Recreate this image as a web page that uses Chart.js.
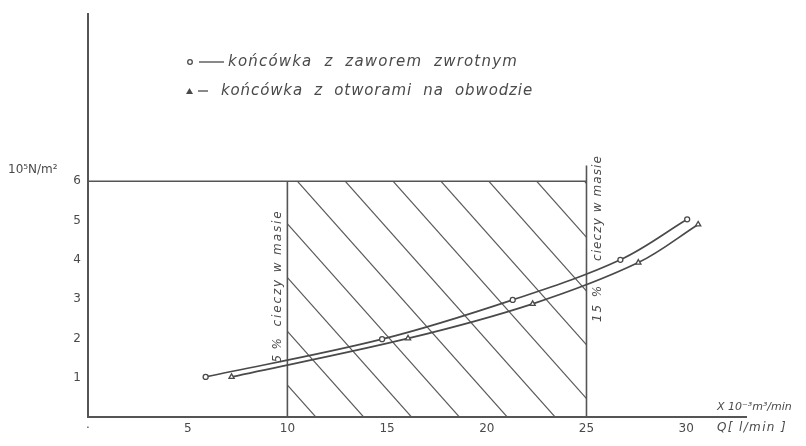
<!DOCTYPE html>
<html>
<head>
<meta charset="utf-8">
<script src="https://cdn.jsdelivr.net/npm/chart.js@4.4.1/dist/chart.umd.min.js"></script>
<style>
    html, body { margin: 0; background: #fff; }
    #wrap { width: 806px; height: 446px; }
</style>
</head>
<body>
<div id="wrap"><canvas id="chart" width="806" height="446"></canvas></div>
<script>
// pressure [10^5 N/m^2] vs flow Q [l/min]
const circleQ = [5.9, 14.75, 21.3, 26.7, 30.05];
const circleP = [1.02, 1.98, 2.98, 4.0, 5.03];
const triangleQ = [7.2, 16.05, 22.3, 27.6, 30.6];
const triangleP = [1.02, 2.0, 2.88, 3.93, 4.9];

const xTicks = [0, 5, 10, 15, 20, 25, 30];
const xTickLabels = ['·', '5', '10', '15', '20', '25', '30'];
const yTicks = [1, 2, 3, 4, 5, 6];

// 5 % and 15 % liquid content limits, frame top
const limitQ = [10, 25];
const frameTop = 6;
const rightLimitTop = 6.4;
// hatch lines: p = frameTop - hatchSlope * (Q - offset)
const hatchOffsets = [0.9, 3.3, 5.7, 8.1, 10.5, 12.9, 15.3, 17.7, 20.1, 22.5, 24.9];
const hatchSlope = 0.57;

const legendLabels = ['końcówka  z  zaworem  zwrotnym', 'końcówka  z  otworami  na  obwodzie'];

const INK = '#4a4a4a';
const toPoints = (xs, ys) => xs.map((x, i) => ({ x, y: ys[i] }));

const spacedText = (ctx, text, x, y, width) => {
    ctx.letterSpacing = '0px';
    const w = ctx.measureText(text).width;
    ctx.letterSpacing = Math.max(0, (width - w) / text.length) + 'px';
    ctx.fillText(text, x, y);
    ctx.letterSpacing = '0px';
};

const drawingPlugin = {
    id: 'drawing',
    beforeDatasetsDraw(chart) {
        const { ctx, scales: { x, y } } = chart;
        const left = x.getPixelForValue(limitQ[0]);
        const right = x.getPixelForValue(limitQ[1]);
        const top = y.getPixelForValue(frameTop);
        const bottom = y.getPixelForValue(0);
        ctx.save();
        ctx.beginPath();
        ctx.rect(left, top, right - left, bottom - top);
        ctx.clip();
        ctx.strokeStyle = '#5a5a5a';
        ctx.lineWidth = 1.2;
        hatchOffsets.forEach(off => {
            const q1 = off - 2, q2 = off + 14;
            ctx.beginPath();
            ctx.moveTo(x.getPixelForValue(q1), y.getPixelForValue(frameTop - hatchSlope * (q1 - off)));
            ctx.lineTo(x.getPixelForValue(q2), y.getPixelForValue(frameTop - hatchSlope * (q2 - off)));
            ctx.stroke();
        });
        ctx.restore();
    },
    afterDraw(chart) {
        const { ctx, scales: { x, y } } = chart;
        ctx.save();
        ctx.fillStyle = INK;
        ctx.strokeStyle = INK;

        // legend
        ctx.font = 'italic 15px "DejaVu Sans"';
        ctx.textBaseline = 'middle';
        ctx.lineWidth = 1.3;
        ctx.beginPath(); ctx.arc(190, 62, 2.3, 0, Math.PI * 2); ctx.stroke();
        ctx.beginPath(); ctx.moveTo(199, 62); ctx.lineTo(224, 62); ctx.stroke();
        spacedText(ctx, legendLabels[0], 228, 62, 290);
        ctx.beginPath();
        ctx.moveTo(186, 94); ctx.lineTo(193, 94); ctx.lineTo(189.5, 88); ctx.closePath();
        ctx.fill();
        ctx.beginPath(); ctx.moveTo(198, 91); ctx.lineTo(208, 91); ctx.stroke();
        spacedText(ctx, legendLabels[1], 221, 91, 312);

        // axis units
        ctx.font = '12px "DejaVu Sans"';
        ctx.textAlign = 'left';
        ctx.fillText('10⁵N/m²', 8, 170);
        ctx.font = 'italic 11px "DejaVu Sans"';
        ctx.fillText('X 10⁻³m³/min', 717, 407);
        ctx.font = 'italic 12px "DejaVu Sans"';
        spacedText(ctx, 'Q[ l/min ]', 717, 428, 70);

        // limit annotations, rotated
        const rotated = (text, px, py, width) => {
            ctx.save();
            ctx.translate(px, py);
            ctx.rotate(-Math.PI / 2);
            ctx.textAlign = 'left';
            spacedText(ctx, text, -width / 2, 0, width);
            ctx.restore();
        };
        ctx.font = 'italic 12px "DejaVu Sans"';
        const lx = x.getPixelForValue(limitQ[0]) - 10;
        const rx = x.getPixelForValue(limitQ[1]) + 11;
        rotated('5 %', lx, 350, 25);
        rotated('cieczy w masie', lx, 268, 117);
        rotated('15 %', rx, 303, 38);
        rotated('cieczy w masie', rx, 208, 106);
        ctx.restore();
    }
};

const lineStyle = {
    borderColor: INK,
    borderWidth: 1.7,
    pointBorderColor: INK,
    pointBackgroundColor: '#fff',
    pointBorderWidth: 1.3,
    tension: 0.35
};

const frameStyle = { borderColor: '#555', borderWidth: 1.6, pointRadius: 0, tension: 0 };

new Chart(document.getElementById('chart'), {
    type: 'line',
    data: {
        datasets: [
            { ...lineStyle, label: 'końcówka z zaworem zwrotnym', data: toPoints(circleQ, circleP), pointStyle: 'circle', pointRadius: 2.5 },
            { ...lineStyle, label: 'końcówka z otworami na obwodzie', data: toPoints(triangleQ, triangleP), pointStyle: 'triangle', pointRadius: 3 },
            { ...frameStyle, data: [{ x: 0, y: frameTop }, { x: limitQ[1], y: frameTop }] },
            { ...frameStyle, data: [{ x: limitQ[0], y: 0 }, { x: limitQ[0], y: frameTop }] },
            { ...frameStyle, data: [{ x: limitQ[1], y: 0 }, { x: limitQ[1], y: rightLimitTop }] }
        ]
    },
    options: {
        responsive: false,
        devicePixelRatio: 1,
        animation: false,
        layout: { padding: { top: 7, right: 60, left: 0, bottom: 0 } },
        plugins: { legend: { display: false }, tooltip: { enabled: false } },
        scales: {
            x: {
                type: 'linear',
                min: 0,
                max: 33,
                afterBuildTicks: s => { s.ticks = xTicks.map(v => ({ value: v })); },
                afterFit: s => { s.height = 29; },
                ticks: {
                    callback: v => xTickLabels[xTicks.indexOf(v)],
                    color: INK,
                    font: { family: 'DejaVu Sans', size: 12 },
                    padding: 5,
                    maxRotation: 0,
                    autoSkip: false
                },
                grid: { display: false, drawTicks: false },
                border: { color: '#555', width: 2 }
            },
            y: {
                min: 0,
                max: 10.25,
                afterBuildTicks: s => { s.ticks = yTicks.map(v => ({ value: v })); },
                afterFit: s => { s.width = 88; },
                ticks: {
                    color: INK,
                    font: { family: 'DejaVu Sans', size: 12 },
                    padding: 7
                },
                grid: { display: false, drawTicks: false },
                border: { color: '#555', width: 2 }
            }
        }
    },
    plugins: [drawingPlugin]
});
</script>
</body>
</html>
